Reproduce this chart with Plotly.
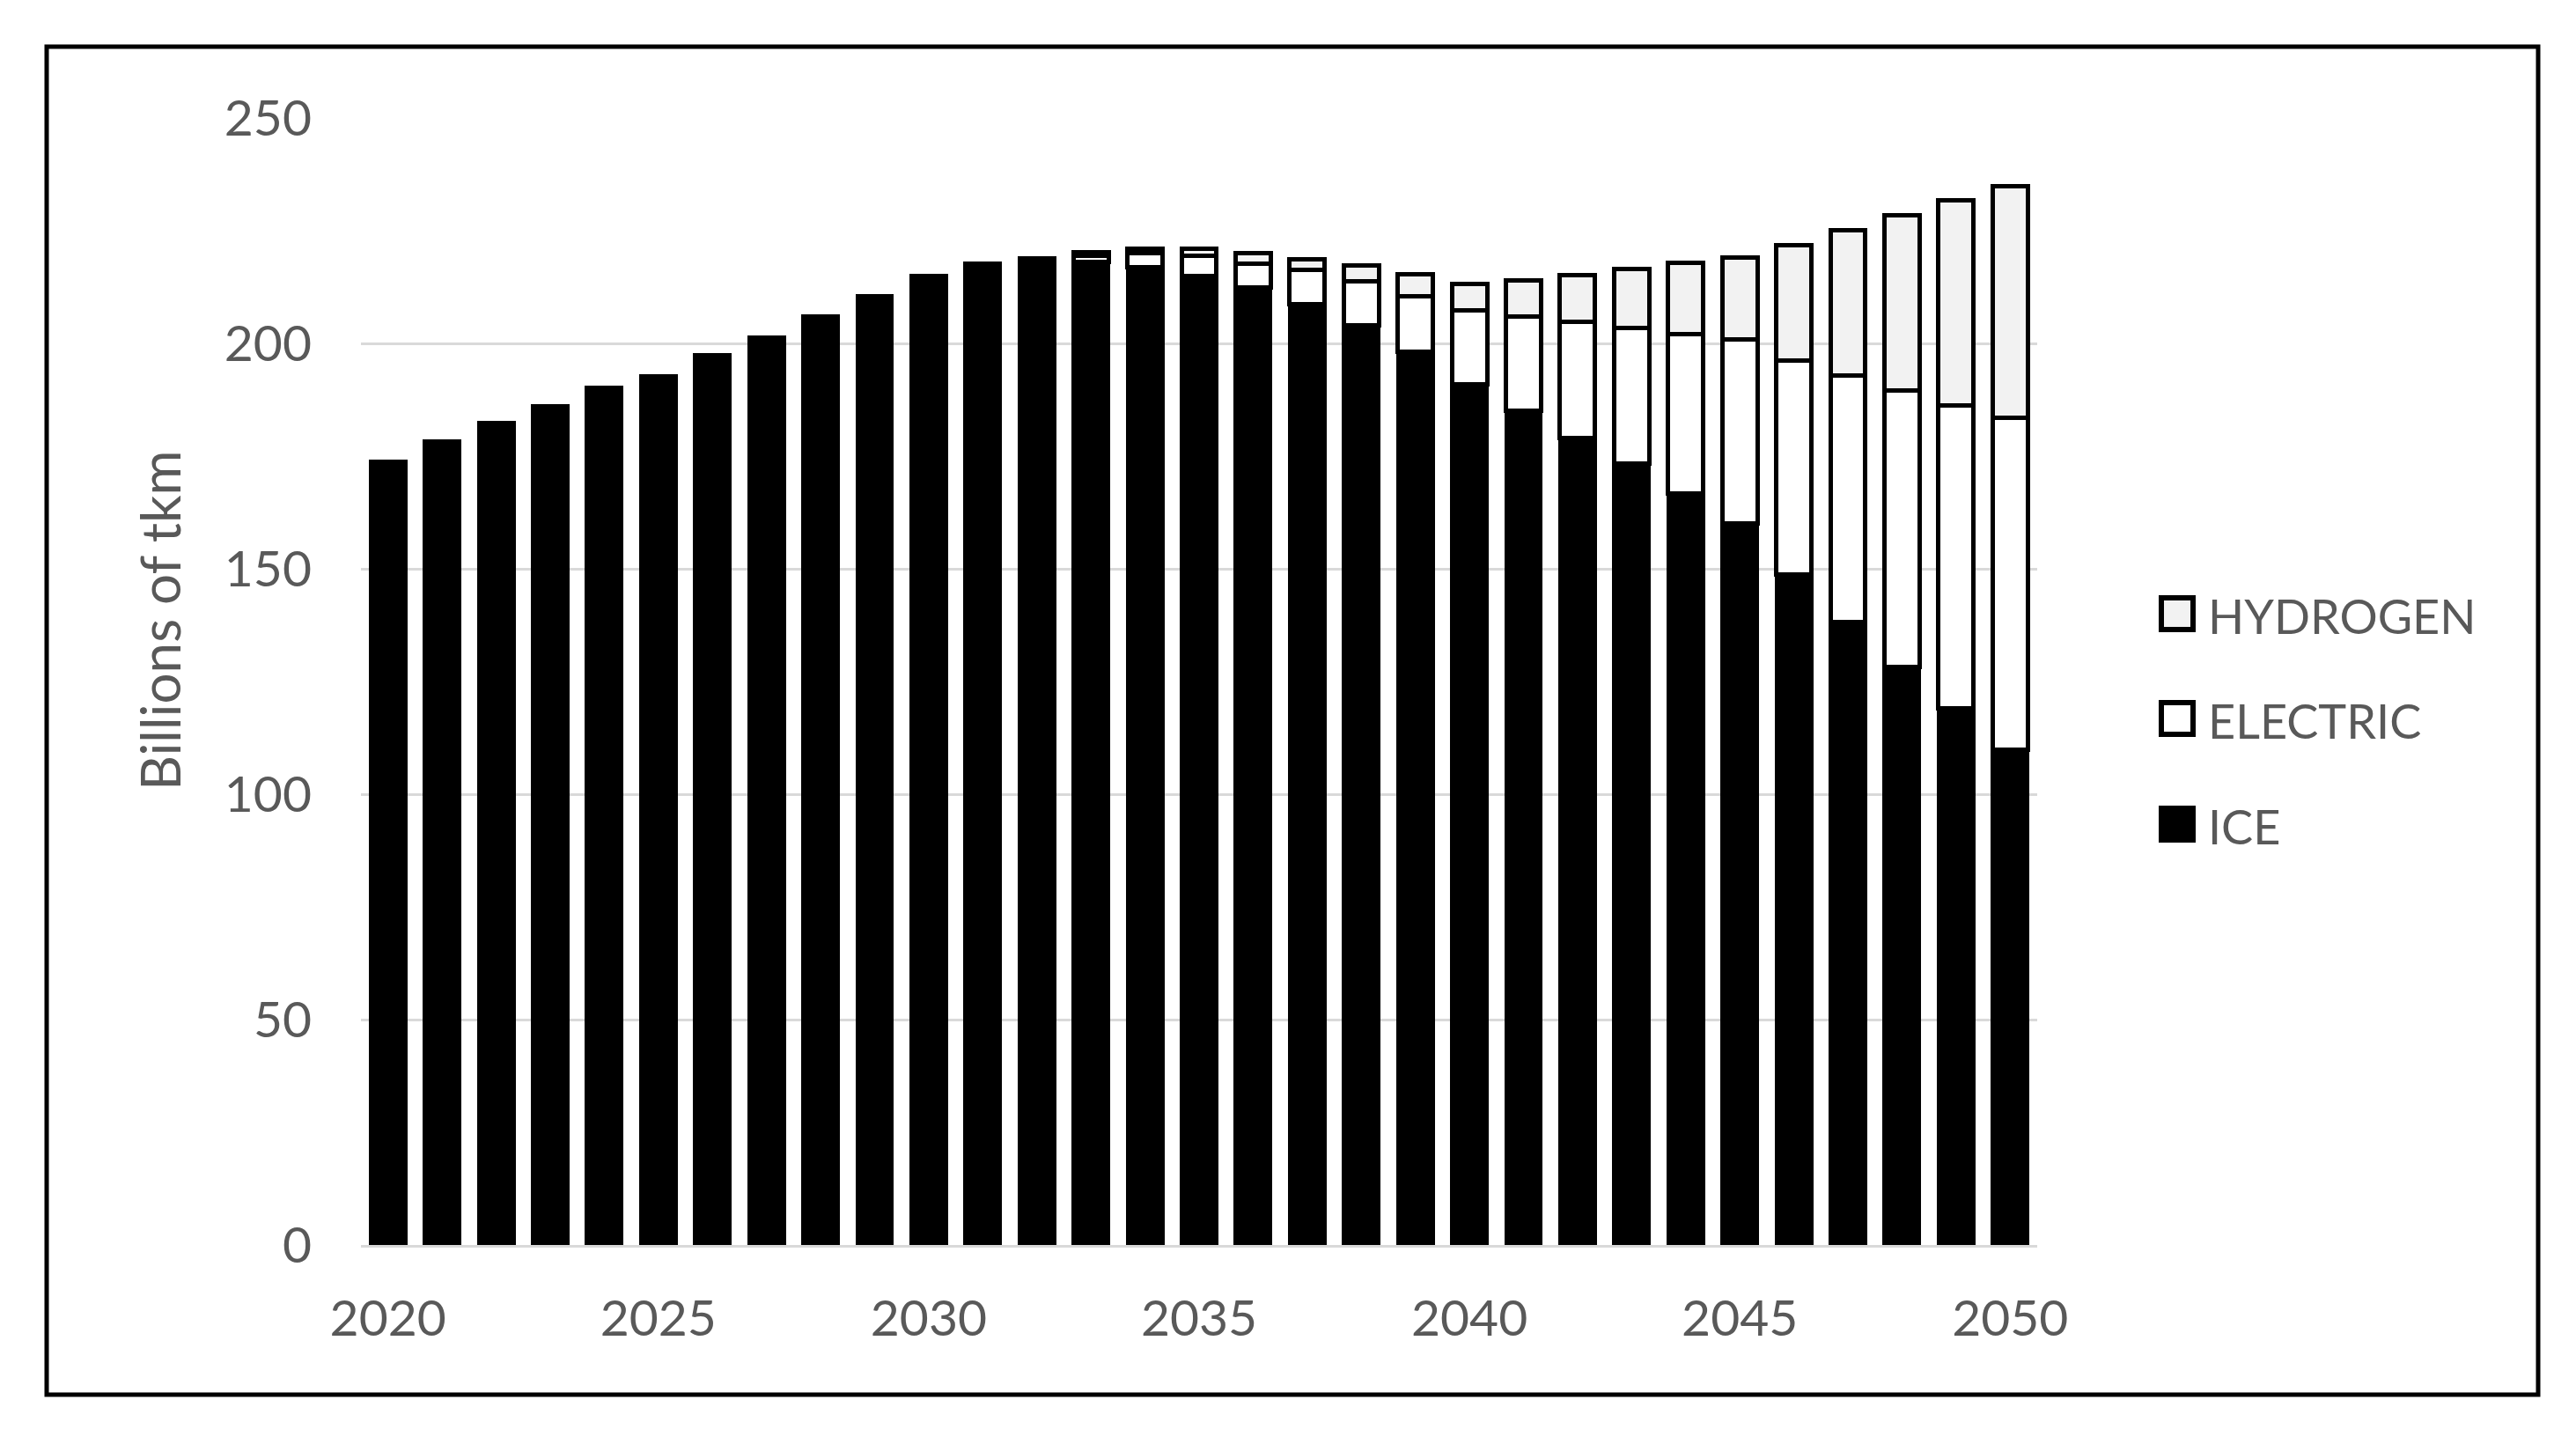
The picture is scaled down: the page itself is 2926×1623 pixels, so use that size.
import plotly.graph_objects as go

years = list(range(2020, 2051))
ice = [173.8, 178.4, 182.4, 186.2, 190.2, 192.8, 197.4, 201.3, 206.0, 210.5,
       215.1, 217.7, 219.0, 218.0, 216.8, 215.0, 212.5, 208.6, 204.0, 198.2,
       190.9, 185.0, 179.0, 173.3, 166.7, 160.1, 148.8, 138.2, 128.2, 119.1, 109.8]
electric = [None] * 13 + [1.5, 3.2, 4.5, 5.2, 7.7, 9.8, 12.3, 16.4, 20.9, 25.7,
                          30.1, 35.4, 40.7, 47.3, 54.6, 61.3, 67.2, 73.6]
hydrogen = [None] * 13 + [0.8, 1.0, 1.5, 2.3, 2.3, 3.5, 4.8, 5.9, 8.0, 10.5,
                          13.1, 15.7, 18.3, 25.6, 32.3, 38.9, 45.5, 51.4]
y_ticks = [0, 50, 100, 150, 200, 250]
x_ticks = [2020, 2025, 2030, 2035, 2040, 2045, 2050]
legend_names = ["HYDROGEN", "ELECTRIC", "ICE"]
legend_fills = ["#f2f2f2", "white", "black"]

FONT = "Lato"
GREY = "#595959"
FS = 57

fig = go.Figure()
fig.add_trace(go.Bar(x=years, y=ice, name="ICE", showlegend=False,
                     marker=dict(color="black", line=dict(color="black", width=4))))
fig.add_trace(go.Bar(x=years, y=electric, name="ELECTRIC", showlegend=False,
                     marker=dict(color="white", line=dict(color="black", width=5))))
fig.add_trace(go.Bar(x=years, y=hydrogen, name="HYDROGEN", showlegend=False,
                     marker=dict(color="#f2f2f2", line=dict(color="black", width=5))))

# page body has an 8px margin; work in page pixels and convert
OFF = 8
W, H = 2926 - 2 * OFF, 1623 - 2 * OFF
L, T = 410 - OFF, 134 - OFF
PW, PH = 1904, 1280
R, B = W - L - PW, H - T - PH


def px(x):
    return (x - OFF - L) / PW


def py(y):
    return (T + PH - (y - OFF)) / PH


# outer frame
fig.add_shape(type="rect", xref="paper", yref="paper",
              x0=px(53), x1=px(2883), y0=py(1584), y1=py(53),
              line=dict(color="black", width=5), fillcolor="rgba(0,0,0,0)", layer="below")

# legend (drawn manually so the swatches can match the original size)
centers = [697, 816, 936]
for name, fill, cy in zip(legend_names, legend_fills, centers):
    fig.add_shape(type="rect", xref="paper", yref="paper",
                  x0=px(2455), x1=px(2491), y0=py(cy + 18), y1=py(cy - 18),
                  line=dict(color="black", width=6), fillcolor=fill)
    fig.add_annotation(xref="paper", yref="paper", x=px(2506), y=py(cy + 2),
                       xanchor="left", yanchor="middle", showarrow=False, text=name,
                       font=dict(family=FONT, size=54, color=GREY))

# y-axis title
fig.add_annotation(xref="paper", yref="paper", x=px(181), y=py(705),
                   xanchor="center", yanchor="middle", showarrow=False,
                   text="Billions of tkm", textangle=-90,
                   font=dict(family=FONT, size=62, color=GREY))

fig.update_layout(
    width=W, height=H,
    margin=dict(l=L, r=R, t=T, b=B, pad=0),
    barmode="stack", bargap=0.35,
    plot_bgcolor="white", paper_bgcolor="white",
    font=dict(family=FONT, size=FS, color=GREY),
    showlegend=False,
    xaxis=dict(range=[2019.5, 2050.5], tickvals=x_ticks, ticktext=[str(v) for v in x_ticks],
               showgrid=False, zeroline=False, showline=True, linecolor="#d9d9d9", linewidth=3,
               ticks="", ticklabelstandoff=32,
               tickfont=dict(family=FONT, size=FS, color=GREY)),
    yaxis=dict(range=[0, 250], tickvals=y_ticks, showgrid=True, gridcolor="#d9d9d9", gridwidth=3,
               zeroline=False, showline=False, ticks="", ticklabelstandoff=55,
               tickfont=dict(family=FONT, size=FS, color=GREY)),
)

fig.write_html("out.html")
